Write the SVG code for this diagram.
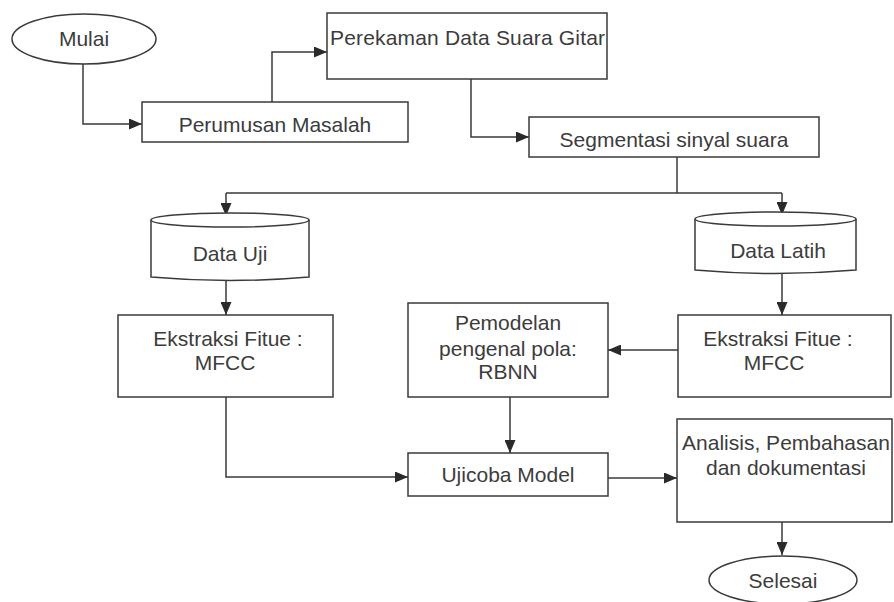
<svg xmlns="http://www.w3.org/2000/svg" width="894" height="602" viewBox="0 0 894 602">
<defs>
<marker id="arr" viewBox="0 0 13 11" refX="13" refY="5.5" markerWidth="13" markerHeight="11" markerUnits="userSpaceOnUse" orient="auto">
<path d="M0,0 L13,5.5 L0,11 z" fill="#2a2a2a"/>
</marker>
</defs>
<style>
.n{fill:#fff;stroke:#3a3a3a;stroke-width:1.5}
.t{font-family:"Liberation Sans",Arial,sans-serif;font-size:21px;fill:#3c3c3c;text-anchor:middle}
.c{fill:none;stroke:#3a3a3a;stroke-width:1.5;marker-end:url(#arr)}
.l{fill:none;stroke:#3a3a3a;stroke-width:1.5}
</style>
<rect width="894" height="602" fill="#fff"/>
<g id="connectors">
<path class="c" d="M83,64 V124 H142"/>
<path class="c" d="M272,102 V52 H327"/>
<path class="c" d="M471,79 V137 H529"/>
<path class="l" d="M677,157 V193 M226,193 H782"/>
<path class="c" d="M226,193 V216"/>
<path class="c" d="M782,193 V215"/>
<path class="c" d="M226,279 V315"/>
<path class="c" d="M782,273 V315"/>
<path class="c" d="M678,350 H608"/>
<path class="c" d="M510,397 V453"/>
<path class="c" d="M226,397 V477 H408"/>
<path class="c" d="M608,478 H677"/>
<path class="c" d="M782,522 V555"/>
</g>
<g id="mulai">
<ellipse class="n" cx="84" cy="39" rx="72" ry="25"/>
<text class="t" x="84" y="46">Mulai</text>
</g>
<g id="perekaman">
<rect class="n" x="327" y="13" width="280" height="66"/>
<text class="t" x="330" y="45" style="text-anchor:start" textLength="275">Perekaman Data Suara Gitar</text>
</g>
<g id="perumusan">
<rect class="n" x="142" y="102" width="266" height="40"/>
<text class="t" x="275" y="132">Perumusan Masalah</text>
</g>
<g id="segmentasi">
<rect class="n" x="529" y="117" width="290" height="40"/>
<text class="t" x="674" y="147">Segmentasi sinyal suara</text>
</g>
<g id="data-uji">
<path class="n" d="M151,220 V277 Q230,284 309,277 V220"/>
<ellipse class="n" cx="230" cy="220" rx="79" ry="7"/>
<text class="t" x="230" y="261">Data Uji</text>
</g>
<g id="data-latih">
<path class="n" d="M695,219 V270 Q775,277 856,270 V219"/>
<ellipse class="n" cx="775.5" cy="219" rx="80.5" ry="7"/>
<text class="t" x="778" y="258">Data Latih</text>
</g>
<g id="ekstraksi-uji">
<rect class="n" x="118" y="315" width="215" height="82"/>
<text class="t" x="228" y="346">Ekstraksi Fitue :</text>
<text class="t" x="225" y="370">MFCC</text>
</g>
<g id="pemodelan">
<rect class="n" x="408" y="303" width="200" height="94"/>
<text class="t" x="508" y="330">Pemodelan</text>
<text class="t" x="508" y="356">pengenal pola:</text>
<text class="t" x="508" y="379">RBNN</text>
</g>
<g id="ekstraksi-latih">
<rect class="n" x="678" y="315" width="213" height="82"/>
<text class="t" x="778" y="346">Ekstraksi Fitue :</text>
<text class="t" x="774" y="370">MFCC</text>
</g>
<g id="ujicoba">
<rect class="n" x="408" y="453" width="200" height="43"/>
<text class="t" x="508" y="482">Ujicoba Model</text>
</g>
<g id="analisis">
<rect class="n" x="677" y="419" width="215" height="103"/>
<text class="t" x="786" y="450">Analisis, Pembahasan</text>
<text class="t" x="786" y="475">dan dokumentasi</text>
</g>
<g id="selesai">
<ellipse class="n" cx="783" cy="580" rx="74" ry="24"/>
<text class="t" x="783" y="588">Selesai</text>
</g>
</svg>
